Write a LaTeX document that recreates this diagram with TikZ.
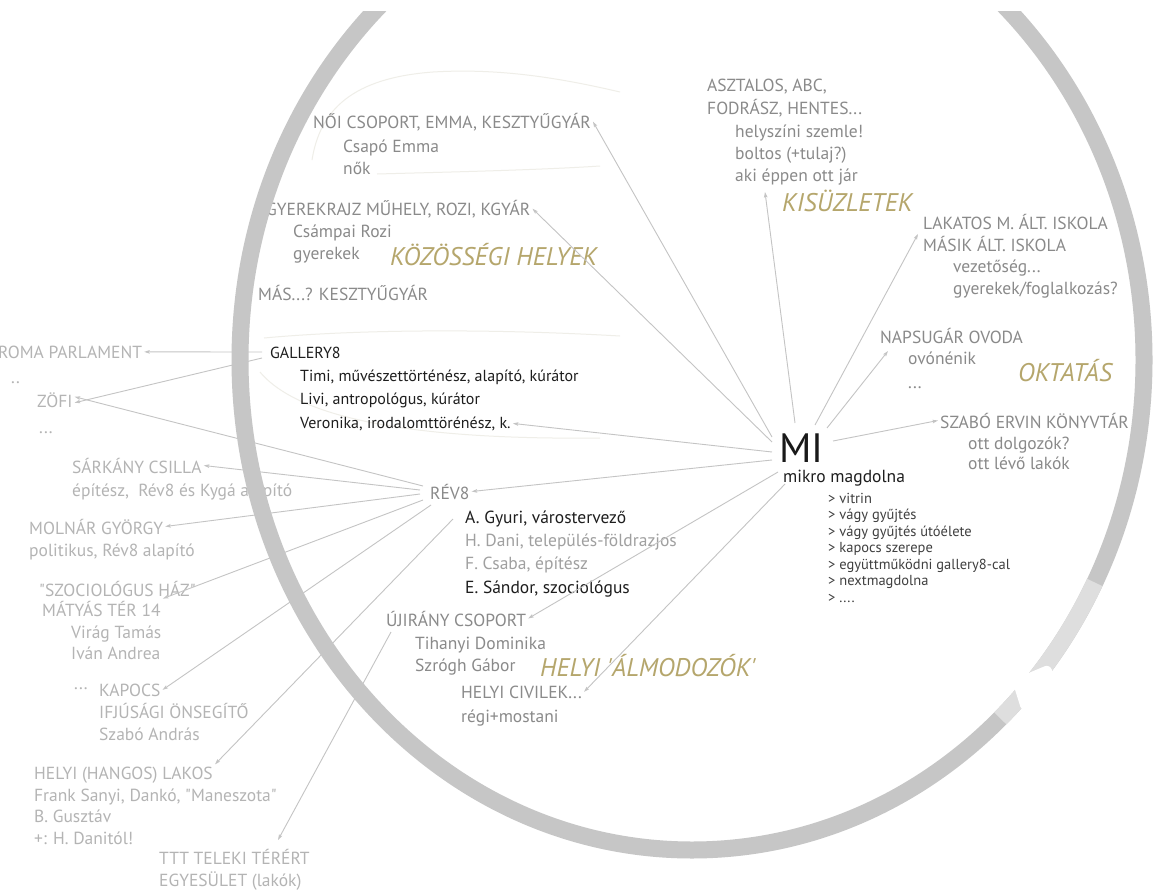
\documentclass[tikz,border=0pt]{standalone}
\usepackage{fontspec}
\setmainfont{PT Sans}
\usetikzlibrary{arrows.meta}
\definecolor{txtgrey}{HTML}{8A8A8A}
\definecolor{midgrey}{HTML}{A0A0A0}
\definecolor{outgrey}{HTML}{B4B4B4}
\definecolor{darktxt}{HTML}{1E1E1E}
\definecolor{goldtxt}{HTML}{B5A66C}
\definecolor{ringgrey}{HTML}{C6C6C6}
\definecolor{ringlight}{HTML}{DEDEDE}
\definecolor{linegrey}{HTML}{C4C4C4}
\definecolor{faint}{HTML}{EFEEE8}
\begin{document}
\begin{tikzpicture}[x=1pt,y=-1pt,
  lbl/.style={anchor=base west, inner sep=2pt, font=\fontsize{17.5}{17.5}\selectfont, text=txtgrey},
  outl/.style={lbl, text=outgrey},
  midl/.style={lbl, text=midgrey},
  darkl/.style={lbl, text=darktxt},
  gall/.style={lbl, text=darktxt, font=\fontsize{16}{16}\selectfont},
  cat/.style={lbl, text=goldtxt, font=\fontsize{25.5}{25.5}\selectfont\itshape},
  small/.style={lbl, text=darktxt!85, font=\fontsize{14.5}{14.5}\selectfont},
  con/.style={draw=linegrey, line width=0.9pt, -{Stealth[length=5.5pt,width=3.5pt,inset=1pt]}},
  loop/.style={draw=faint, line width=1pt}]
\useasboundingbox (0,0) rectangle (1158,891);
\fill[white] (0,0) rectangle (1158,891);

% faint lasso loops
\draw[loop] (312,160) .. controls (320,110) and (352,78) .. (433,72) .. controls (500,68) and (560,78) .. (620,92);
\draw[loop] (377,174) .. controls (450,172) and (540,170) .. (600,166);
\draw[loop] (264,338) .. controls (350,330) and (480,328) .. (620,336);
\draw[loop] (260,372) .. controls (300,420) and (420,440) .. (600,438);

% ---- texts: community places
\node[lbl] (noi) at (311,128) {NŐI CSOPORT, EMMA, KESZTYŰGYÁR};
\node[lbl] (csapo) at (341,152) {Csapó Emma};
\node[lbl] (nok) at (341,174) {nők};
\node[lbl] (gyer) at (264,215) {GYEREKRAJZ MŰHELY, ROZI, KGYÁR};
\node[lbl] (csampai) at (291,237) {Csámpai Rozi};
\node[lbl] (gyerekek) at (291,259) {gyerekek};
\node[cat] (kozos) at (388,265) {KÖZÖSSÉGI HELYEK};
\node[lbl] (mas) at (256,300) {MÁS...? KESZTYŰGYÁR};

% ---- gallery8
\node[gall] (gal) at (268,358) {GALLERY8};
\node[gall] (timi) at (298,381) {Timi, művészettörténész, alapító, kúrátor};
\node[gall] (livi) at (298,404) {Livi, antropológus, kúrátor};
\node[gall] (vero) at (298,428) {Veronika, irodalomttörénész, k.};

% ---- shops
\node[lbl] (asz) at (705,91) {ASZTALOS, ABC,};
\node[lbl] (fod) at (705,114) {FODRÁSZ, HENTES...};
\node[lbl] (hely) at (733,137) {helyszíni szemle!};
\node[lbl] (boltos) at (733,159) {boltos (+tulaj?)};
\node[lbl] (aki) at (733,181) {aki éppen ott jár};
\node[cat] (kis) at (780,211) {KISÜZLETEK};

% ---- education
\node[lbl] (lak) at (921,229) {LAKATOS M. ÁLT. ISKOLA};
\node[lbl] (masik) at (921,251) {MÁSIK ÁLT. ISKOLA};
\node[lbl] (vez) at (951,272) {vezetőség...};
\node[lbl] (gyf) at (951,294) {gyerekek/foglalkozás?};
\node[lbl] (nap) at (878,343) {NAPSUGÁR OVODA};
\node[lbl] (ovo) at (906,364) {ovónénik};
\node[lbl] (dots3) at (906,388) {...};
\node[cat] (okt) at (1016,381) {OKTATÁS};
\node[lbl] (szabo) at (938,428) {SZABÓ ERVIN KÖNYVTÁR};
\node[lbl] (ottd) at (966,449) {ott dolgozók?};
\node[lbl] (ottl) at (966,469) {ott lévő lakók};

% ---- centre
\node[lbl, text=black!90, text depth=0pt, font=\fontsize{41}{41}\selectfont] (mi) at (777,462) {MI};
\node[darkl, text height=9pt, font=\fontsize{17.5}{17.5}\selectfont] (mikro) at (781,482) {mikro magdolna};
\node[small] (v1) at (826,503) {> vitrin};
\node[small] (v2) at (826,519.5) {> vágy gyűjtés};
\node[small] (v3) at (826,536) {> vágy gyűjtés útóélete};
\node[small] (v4) at (826,552.5) {> kapocs szerepe};
\node[small] (v5) at (826,569) {> együttműködni gallery8-cal};
\node[small] (v6) at (826,585.5) {> nextmagdolna};
\node[small] (v7) at (826,602) {> ....};

% ---- rev8
\node[lbl] (rev) at (428,499) {RÉV8};
\node[darkl] (gyuri) at (463,523) {A. Gyuri, várostervező};
\node[midl] (dani) at (463,546) {H. Dani, település-földrazjos};
\node[midl] (csaba) at (463,569) {F. Csaba, építész};
\node[darkl] (sandor) at (463,593) {E. Sándor, szociológus};

% ---- local dreamers
\node[lbl] (uj) at (384,626) {ÚJIRÁNY CSOPORT};
\node[lbl] (tih) at (413,649) {Tihanyi Dominika};
\node[lbl] (szr) at (413,671) {Szrógh Gábor};
\node[cat] (alm) at (538,676) {HELYI \textquotesingle ÁLMODOZÓK\textquotesingle};
\node[lbl] (civ) at (459,698) {HELYI CIVILEK...};
\node[lbl] (regi) at (459,722) {régi+mostani};

% ---- outside left
\node[outl] (roma) at (-4,358) {ROMA PARLAMENT};
\node[outl] (dd1) at (9,383) {..};
\node[outl] (zofi) at (35,407) {ZÖFI};
\node[outl] (dd2) at (37,433) {...};
\node[outl] (sark) at (70,473) {SÁRKÁNY CSILLA};
\node[outl] (epit) at (70,496) {építész,\ \ Rév8 és Kygá alapító};
\node[outl] (molnar) at (27,534) {MOLNÁR GYÖRGY};
\node[outl] (pol) at (27,556) {politikus, Rév8 alapító};
\node[outl] (szoc) at (37,596) {\textquotedbl SZOCIOLÓGUS HÁZ\textquotedbl};
\node[outl] (matyas) at (40,616) {MÁTYÁS TÉR 14};
\node[outl] (virag) at (69,638) {Virág Tamás};
\node[outl] (ivan) at (69,659) {Iván Andrea};
\node[outl] (dd3) at (72,689) {...};
\node[outl] (kapocs) at (97,696) {KAPOCS};
\node[outl] (ifj) at (97,718) {IFJÚSÁGI ÖNSEGÍTŐ};
\node[outl] (szaboa) at (97,740) {Szabó András};
\node[outl] (hangos) at (32,779) {HELYI (HANGOS) LAKOS};
\node[outl] (frank) at (32,801) {Frank Sanyi, Dankó, \textquotedbl Maneszota\textquotedbl};
\node[outl] (bgus) at (32,822) {B. Gusztáv};
\node[outl] (hdan) at (32,844) {+: H. Danitól!};
\node[outl] (ttt) at (157,864) {TTT TELEKI TÉRÉRT};
\node[outl] (egy) at (157,886) {EGYESÜLET (lakók)};

% ---- connector end points
\coordinate (m1) at (772,437);
\coordinate (m2) at (772,442);
\coordinate (m3) at (795,423);
\coordinate (m4) at (815,425);
\coordinate (m5) at (827,428);
\coordinate (m6) at (833,441);
\coordinate (m7) at (772,452);
\coordinate (m8) at (772,460);
\coordinate (m9) at (778,472);
\coordinate (m10) at (785,484);
\coordinate (tAki) at (765,192);
\coordinate (tNap) at (888,351);
\coordinate (tLak) at (918,234);
\coordinate (tTtt) at (278,840);
\coordinate (r1) at (423,486);
\coordinate (r2) at (420,490);
\coordinate (r3) at (420,494);
\coordinate (r4) at (423,500);
\coordinate (r5) at (431,505);
\coordinate (r6) at (453,519);
\coordinate (g1) at (262,352);
\coordinate (g2) at (262,358);
\coordinate (u1) at (391,632);

% ---- connectors
\draw[con] (m1) -- (noi.east);
\draw[con] (m2) -- (gyer.east);
\draw[con] (m3) -- (tAki);
\draw[con] (m4) -- (tLak);
\draw[con] (m5) -- (tNap);
\draw[con] (m6) -- (szabo.west);
\draw[con] (m7) -- (vero.east);
\draw[con] (m8) -- (rev.east);
\draw[con] (m9) -- (uj.east);
\draw[con] (m10) -- (civ.east);
\draw[con] (g1) -- (roma.east);
\draw[con] (g2) -- ([yshift=-3]zofi.east);
\draw[con] (r1) -- ([yshift=3]zofi.east);
\draw[con] (r2) -- (sark.east);
\draw[con] (r3) -- (molnar.east);
\draw[con] (r4) -- (matyas.north east);
\draw[con] (r5) -- (kapocs.east);
\draw[con] (r6) -- (hangos.north east);
\draw[con] (u1) -- (tTtt);

% ---- ring (on top)
\begin{scope}
\clip (0,12) rectangle (1158,891);
\draw[ringgrey, line width=17pt] (692,360) ellipse[x radius=452, y radius=490];
\draw[ringlight, line width=17pt] ({692+452*cos(27)},{360+490*sin(27)}) arc[start angle=27, end angle=47, x radius=452, y radius=490];
\fill[white, rounded corners=6pt] (1012,680) -- (1050,664) -- (1060,696) -- (1022,712) -- cycle;
\end{scope}
\end{tikzpicture}
\end{document}
